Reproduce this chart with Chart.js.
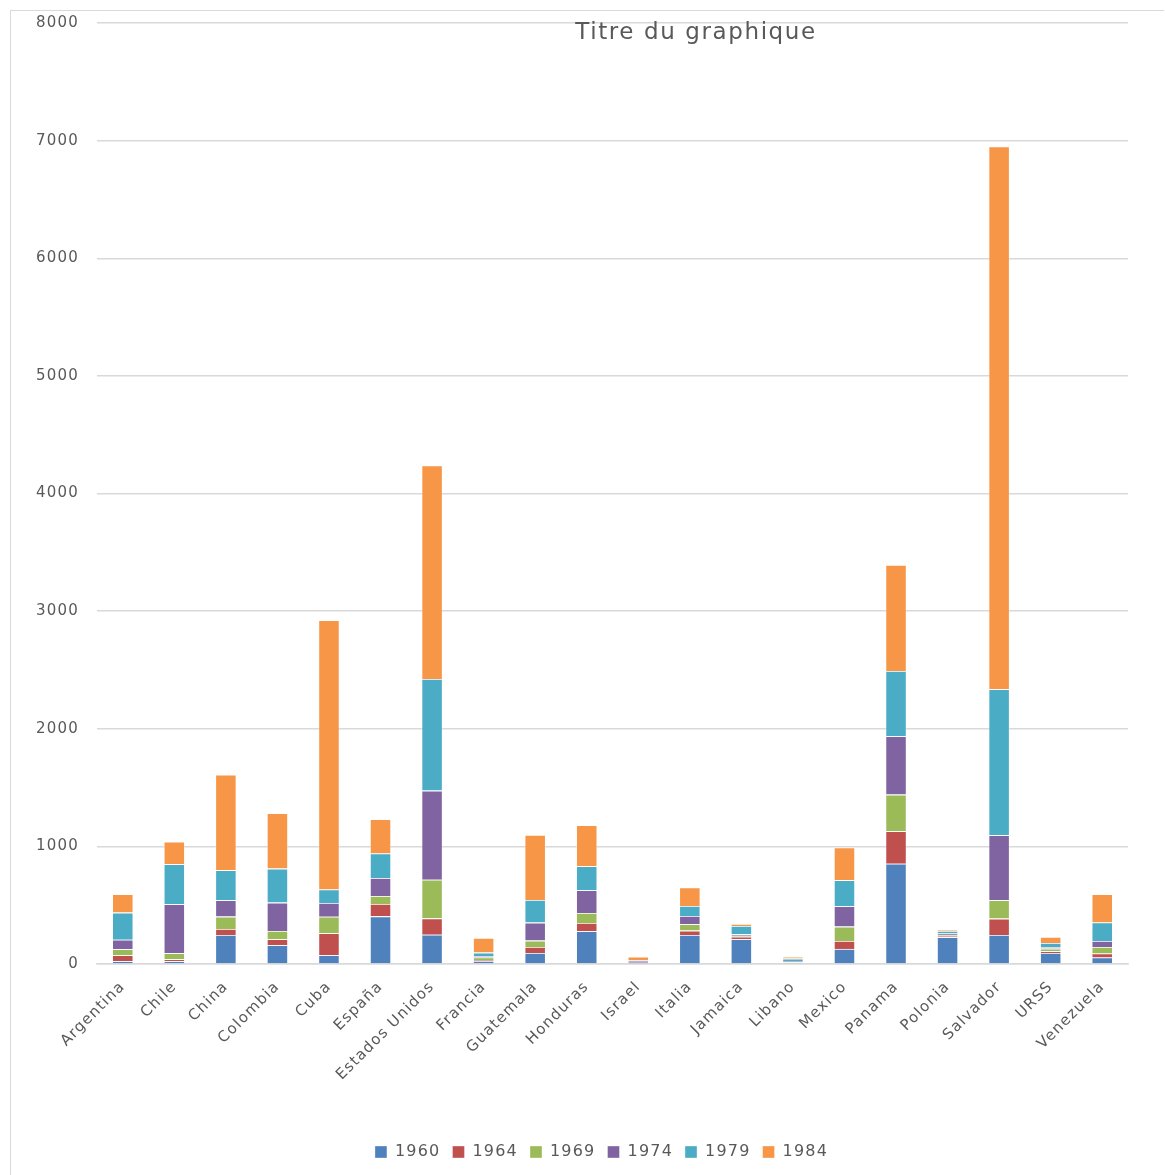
<!DOCTYPE html>
<html>
<head>
<meta charset="utf-8">
<script src="https://cdn.jsdelivr.net/npm/chart.js@4.4.1/dist/chart.umd.min.js"></script>
<style>
    html, body { margin: 0; padding: 0; background: #fff; }
    #wrap {
        position: absolute; left: 10px; top: 10px;
        width: 1153px; height: 1165px;
        border: 1px solid #d9d9d9; border-bottom: none; border-right: none;
    }
    canvas { display: block; }
</style>
</head>
<body>
<div id="wrap"><canvas id="chart"></canvas></div>
<script>
// Data
const categories = ['Argentina', 'Chile', 'China', 'Colombia', 'Cuba', 'España', 'Estados Unidos', 'Francia',
    'Guatemala', 'Honduras', 'Israel', 'Italia', 'Jamaica', 'Libano', 'Mexico', 'Panama', 'Polonia',
    'Salvador', 'URSS', 'Venezuela'];
const seriesNames = ['1960', '1964', '1969', '1974', '1979', '1984'];
const v1960 = [23, 23, 247, 159, 74, 405, 249, 25, 94, 278, 5, 247, 210, 10, 128, 853, 227, 247, 94, 56];
const v1964 = [51, 17, 51, 51, 187, 105, 139, 10, 51, 71, 3, 37, 22, 3, 68, 275, 14, 139, 14, 34];
const v1969 = [51, 51, 105, 71, 141, 68, 329, 20, 54, 85, 3, 54, 8, 3, 122, 312, 5, 156, 23, 54];
const v1974 = [82, 417, 139, 241, 116, 153, 757, 14, 153, 193, 17, 71, 12, 10, 173, 496, 14, 553, 14, 51];
const v1979 = [230, 340, 255, 289, 116, 209, 950, 28, 193, 204, 3, 85, 71, 20, 221, 556, 20, 1241, 34, 158];
const v1984 = [156, 192, 813, 471, 2288, 292, 1814, 125, 553, 349, 30, 156, 17, 15, 278, 901, 11, 4615, 51, 241];
const colors = ['#4F81BD', '#C0504D', '#9BBB59', '#8064A2', '#4BACC6', '#F79646'];
const titleText = 'Titre du graphique';

const FONT = '"DejaVu Sans", Verdana, sans-serif';
const TEXT = '#595959';

const seriesValues = [v1960, v1964, v1969, v1974, v1979, v1984];
const datasets = seriesNames.map((name, i) => ({
    label: name,
    data: seriesValues[i],
    backgroundColor: colors[i],
    borderColor: 'rgba(255,255,255,0.45)',
    borderWidth: 0.8,
    barPercentage: 0.41,
    categoryPercentage: 1
}));

// Wider text, like the Excel export
const spacingPlugin = {
    id: 'spacing',
    beforeInit(chart) { chart.ctx.letterSpacing = '1.2px'; },
    beforeLayout(chart) { chart.ctx.letterSpacing = '1.2px'; },
    afterLayout(chart) {
        // centre the legend on the page, not on the padded box
        chart.legend.left += 32;
        chart.legend.right += 32;
    },
    beforeDraw(chart) { chart.ctx.letterSpacing = '1.2px'; }
};

// Title drawn over the plot, like the original
const titlePlugin = {
    id: 'floatingTitle',
    afterDraw(chart) {
        const ctx = chart.ctx;
        ctx.save();
        ctx.letterSpacing = '1.6px';
        ctx.font = '23px ' + FONT;
        ctx.fillStyle = TEXT;
        ctx.textAlign = 'center';
        ctx.textBaseline = 'middle';
        ctx.fillText(titleText, 685, 22);
        ctx.restore();
    }
};

new Chart(document.getElementById('chart'), {
    type: 'bar',
    data: { labels: categories, datasets },
    plugins: [spacingPlugin, titlePlugin],
    options: {
        responsive: true,
        maintainAspectRatio: false,
        animation: false,
        layout: { padding: { top: 12, right: 36, bottom: 6, left: 0 } },
        plugins: {
            title: { display: false },
            tooltip: { enabled: false },
            legend: {
                position: 'bottom',
                labels: {
                    color: TEXT,
                    font: { family: FONT, size: 16 },
                    boxWidth: 12,
                    boxHeight: 12,
                    padding: 12
                }
            }
        },
        scales: {
            x: {
                stacked: true,
                grid: { display: false, drawTicks: false },
                border: { display: true, color: '#d9d9d9', width: 1.5 },
                ticks: {
                    color: TEXT,
                    font: { family: FONT, size: 15 },
                    minRotation: 45,
                    maxRotation: 45,
                    padding: 14,
                    autoSkip: false
                },
                afterFit: s => { s.height = 168; }
            },
            y: {
                stacked: true,
                min: 0,
                max: 8000,
                grid: { color: '#d9d9d9', lineWidth: 1.5, drawTicks: false },
                border: { display: false },
                ticks: {
                    stepSize: 1000,
                    color: TEXT,
                    font: { family: FONT, size: 15 },
                    padding: 18,
                    callback: v => String(v)
                },
                afterFit: s => {
                    s.width = 86;
                    s.paddingTop = 0;
                    s.paddingBottom = 0;
                }
            }
        }
    }
});
</script>
</body>
</html>
